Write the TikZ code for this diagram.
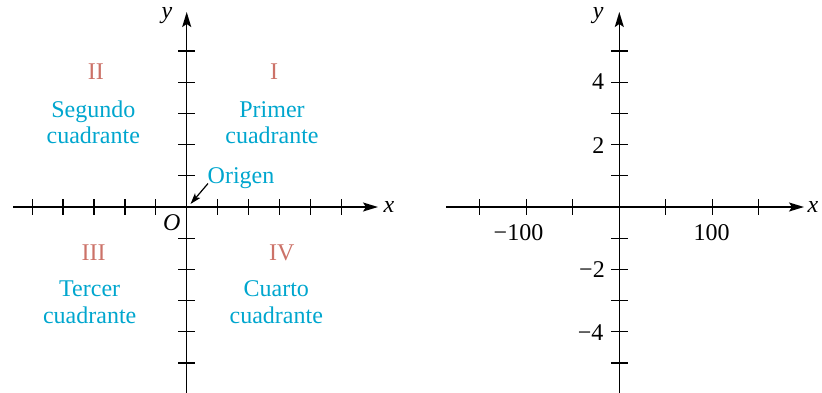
\documentclass[tikz,border=0pt]{standalone}
\usepackage{fontspec}
\setmainfont{Liberation Serif}
\usetikzlibrary{arrows.meta}
\definecolor{qred}{RGB}{204,114,104}
\definecolor{qcyan}{RGB}{0,166,206}
\tikzset{
  axis/.style={line width=1.5pt,-{Stealth[length=15pt,width=9pt,inset=3pt]}},
  tick/.style={line width=1.3pt},
  lbl/.style={font=\fontsize{24}{25.5}\selectfont,inner sep=0pt},
  qnum/.style={lbl,text=qred,anchor=base},
  qname/.style={lbl,text=qcyan,anchor=base,align=center},
  var/.style={lbl,font=\fontsize{24}{25.5}\selectfont\itshape},
}
\begin{document}
\begin{tikzpicture}[x=1pt,y=-1pt]
\useasboundingbox (0,0) rectangle (822,392);
% ---------- left graph ----------
\coordinate (lxs) at (13,207);
\coordinate (lxe) at (378,207);
\coordinate (lys) at (186.7,393);
\coordinate (lye) at (186.7,12);
\draw[axis] (lxs) -- (lxe);
\draw[axis] (lys) -- (lye);
\foreach \k in {1,...,5}{
  \draw[tick] (186.7+30.9*\k,199) -- (186.7+30.9*\k,215);
  \draw[tick] (186.7-30.9*\k,199) -- (186.7-30.9*\k,215);
  \draw[tick] (178,207-31.2*\k) -- (195.4,207-31.2*\k);
  \draw[tick] (178,207+31.2*\k) -- (195.4,207+31.2*\k);
}
\node[var] (lx) at (389,207) {x};
\node[var] (ly) at (167,16) {y};
\node[var,anchor=base] (O) at (171.7,230) {O};
\node[qnum] (q2) at (95.8,79) {II};
\node[qnum] (q1) at (274,79) {I};
\node[qnum] (q3) at (93.7,260) {III};
\node[qnum] (q4) at (281.7,260) {IV};
\node[qname] (n2) at (93.3,143.3) {Segundo\\cuadrante};
\node[qname] (n1) at (272,143.3) {Primer\\cuadrante};
\node[qname,font=\fontsize{24}{26.5}\selectfont] (n3) at (89.7,323.3) {Tercer\\cuadrante};
\node[qname,font=\fontsize{24}{26.5}\selectfont] (n4) at (276.3,323.3) {Cuarto\\cuadrante};
\node[qname] (orig) at (241,183.3) {Origen};
\coordinate (o) at (190.5,204);
\draw[line width=1.2pt,-{Stealth[length=11pt,width=7pt,inset=2.5pt]}] (208,183.5) -- (o);
% ---------- right graph ----------
\coordinate (rxs) at (446,207);
\coordinate (rxe) at (804,207);
\coordinate (rys) at (619.3,393);
\coordinate (rye) at (619.3,12);
\draw[axis] (rxs) -- (rxe);
\draw[axis] (rys) -- (rye);
\foreach \k in {1,2,3}{
  \draw[tick] (619.3+46.5*\k,199) -- (619.3+46.5*\k,215);
  \draw[tick] (619.3-46.5*\k,199) -- (619.3-46.5*\k,215);
}
\foreach \k in {1,...,5}{
  \draw[tick] (611,207-31.2*\k) -- (628,207-31.2*\k);
  \draw[tick] (611,207+31.2*\k) -- (628,207+31.2*\k);
}
\node[var] (rx) at (813,207) {x};
\node[var] (ry) at (598.3,16) {y};
\node[lbl,anchor=base] (t4) at (598.2,89.3) {4};
\node[lbl,anchor=base] (t2) at (598.3,153.3) {2};
\node[lbl,anchor=base] (tm2) at (592,277.3) {−2};
\node[lbl,anchor=base] (tm4) at (590.7,340) {−4};
\node[lbl,anchor=base] (tm100) at (518.5,240) {−100};
\node[lbl,anchor=base] (t100) at (711.7,240) {100};
\end{tikzpicture}
\end{document}
